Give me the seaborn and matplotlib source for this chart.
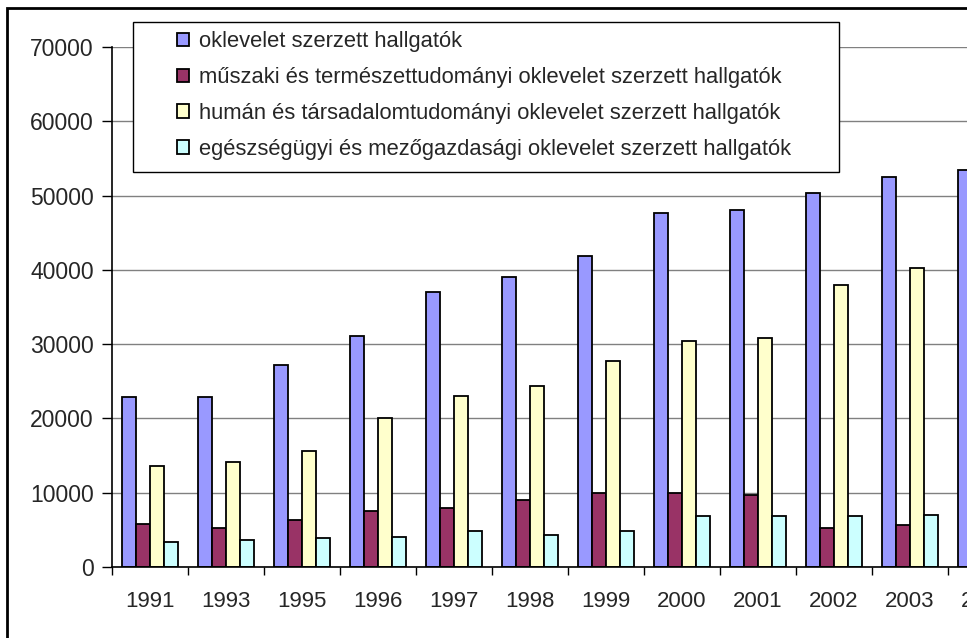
import numpy as np
import pandas as pd
import matplotlib
matplotlib.use('Agg')
import matplotlib.pyplot as plt
import seaborn as sns
from matplotlib.patches import Rectangle

# values
years = ['1991', '1993', '1995', '1996', '1997', '1998', '1999',
         '2000', '2001', '2002', '2003', '2004']
osszes = [22900, 22900, 27200, 31100, 37000, 39000, 41900,
          47600, 48100, 50300, 52500, 53500]
muszaki = [5800, 5300, 6300, 7500, 8000, 9000, 10000,
           10000, 9700, 5300, 5600, np.nan]
human = [13600, 14100, 15600, 20000, 23000, 24400, 27700,
         30400, 30800, 38000, 40200, np.nan]
egeszseg = [3300, 3600, 3900, 4100, 4800, 4300, 4800,
            6800, 6800, 6800, 7000, np.nan]

labels = ['oklevelet szerzett hallgatók',
          'műszaki és természettudományi oklevelet szerzett hallgatók',
          'humán és társadalomtudományi oklevelet szerzett hallgatók',
          'egészségügyi és mezőgazdasági oklevelet szerzett hallgatók']
colors = ['#9999FF', '#993366', '#FFFFCC', '#CCFFFF']

df = pd.DataFrame({'year': years, labels[0]: osszes, labels[1]: muszaki,
                   labels[2]: human, labels[3]: egeszseg})
long = df.melt(id_vars='year', var_name='series', value_name='value')

sns.set_style('white')
plt.rcParams['font.family'] = ['Liberation Sans', 'DejaVu Sans']

fig = plt.figure(figsize=(9.67, 6.38), dpi=100)
# plot area runs past the right edge of the picture (cropped like the original)
ax = fig.add_axes([112 / 967, 71 / 638, 988 / 967, 520 / 638])

sns.barplot(data=long, x='year', y='value', hue='series', order=years,
            hue_order=labels, palette=colors, width=0.74, edgecolor='black',
            linewidth=1.3, saturation=1, ax=ax)

ax.set_ylim(0, 70000)
ax.set_xlim(-0.5, len(years) + 0.5)
ax.set_yticks(range(0, 70001, 10000))
ax.set_yticklabels([str(v) for v in range(0, 70001, 10000)], fontsize=16.5)
ax.yaxis.grid(True, color='#808080', linewidth=1)
ax.set_axisbelow(True)
ax.set_xlabel('')
ax.set_ylabel('')

# category boundaries as major ticks, labels on minor ticks
ax.set_xticks(np.arange(-0.5, len(years) + 0.5, 1))
ax.set_xticklabels([])
ax.set_xticks(np.arange(len(years)), minor=True)
ax.set_xticklabels(years, minor=True, fontsize=16)
ax.tick_params(axis='x', which='major', direction='out', length=6, width=1, color='black')
ax.tick_params(axis='x', which='minor', length=0, pad=17)
ax.tick_params(axis='y', direction='out', length=7, width=1, color='black', pad=6)
ax.tick_params(left=True, bottom=True)

for side in ['top', 'right']:
    ax.spines[side].set_visible(False)
for side in ['left', 'bottom']:
    ax.spines[side].set_color('black')
    ax.spines[side].set_linewidth(1.2)

# legend box drawn as a white figure patch, legend entries on top of it
fig.patches.append(Rectangle((133 / 967, 1 - 172 / 638), (839 - 133) / 967, 150 / 638,
                             transform=fig.transFigure, facecolor='white',
                             edgecolor='black', linewidth=1, zorder=2))
handles, labs = ax.get_legend_handles_labels()
ax.get_legend().remove()
leg = fig.legend(handles, labs, loc='upper left', bbox_to_anchor=(177 / 967, 1 - 31 / 638),
                 fontsize=15.8, frameon=False, handlelength=0.55, handleheight=0.55,
                 handletextpad=0.45, labelspacing=0.68, borderpad=0, borderaxespad=0)
leg.set_zorder(3)

# outer chart frame (right and bottom edges fall outside the picture)
fig.patches.append(Rectangle((7 / 967, -0.1), 1.2, 1 - 8 / 638 + 0.1,
                             transform=fig.transFigure, fill=False,
                             edgecolor='black', linewidth=2, zorder=4))

fig.savefig('out.png', dpi=100)
